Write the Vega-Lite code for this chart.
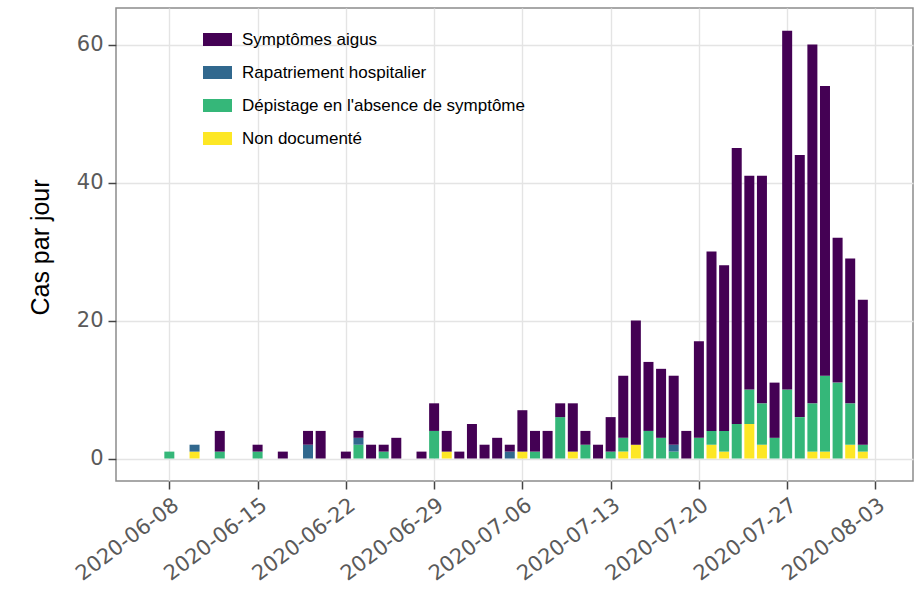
{
  "$schema": "https://vega.github.io/schema/vega-lite/v6.json",
  "width": 797,
  "height": 473,
  "autosize": "none",
  "padding": {"left": 116, "top": 8, "right": 11, "bottom": 114},
  "background": "white",
  "config": {"view": {"stroke": "#8c8c8c", "strokeWidth": 1.5}},
  "datasets": {
    "types": [
      {"type": "Non documenté", "rank": 1},
      {"type": "Dépistage en l'absence de symptôme", "rank": 2},
      {"type": "Rapatriement hospitalier", "rank": 3},
      {"type": "Symptômes aigus", "rank": 4}
    ]
  },
  "data": {"values": [
    {"date": "2020-06-08", "type": "Dépistage en l'absence de symptôme", "n": 1},
    {"date": "2020-06-10", "type": "Non documenté", "n": 1},
    {"date": "2020-06-10", "type": "Rapatriement hospitalier", "n": 1},
    {"date": "2020-06-12", "type": "Dépistage en l'absence de symptôme", "n": 1},
    {"date": "2020-06-12", "type": "Symptômes aigus", "n": 3},
    {"date": "2020-06-15", "type": "Dépistage en l'absence de symptôme", "n": 1},
    {"date": "2020-06-15", "type": "Symptômes aigus", "n": 1},
    {"date": "2020-06-17", "type": "Symptômes aigus", "n": 1},
    {"date": "2020-06-19", "type": "Rapatriement hospitalier", "n": 2},
    {"date": "2020-06-19", "type": "Symptômes aigus", "n": 2},
    {"date": "2020-06-20", "type": "Symptômes aigus", "n": 4},
    {"date": "2020-06-22", "type": "Symptômes aigus", "n": 1},
    {"date": "2020-06-23", "type": "Dépistage en l'absence de symptôme", "n": 2},
    {"date": "2020-06-23", "type": "Rapatriement hospitalier", "n": 1},
    {"date": "2020-06-23", "type": "Symptômes aigus", "n": 1},
    {"date": "2020-06-24", "type": "Symptômes aigus", "n": 2},
    {"date": "2020-06-25", "type": "Dépistage en l'absence de symptôme", "n": 1},
    {"date": "2020-06-25", "type": "Symptômes aigus", "n": 1},
    {"date": "2020-06-26", "type": "Symptômes aigus", "n": 3},
    {"date": "2020-06-28", "type": "Symptômes aigus", "n": 1},
    {"date": "2020-06-29", "type": "Dépistage en l'absence de symptôme", "n": 4},
    {"date": "2020-06-29", "type": "Symptômes aigus", "n": 4},
    {"date": "2020-06-30", "type": "Non documenté", "n": 1},
    {"date": "2020-06-30", "type": "Symptômes aigus", "n": 3},
    {"date": "2020-07-01", "type": "Symptômes aigus", "n": 1},
    {"date": "2020-07-02", "type": "Symptômes aigus", "n": 5},
    {"date": "2020-07-03", "type": "Symptômes aigus", "n": 2},
    {"date": "2020-07-04", "type": "Symptômes aigus", "n": 3},
    {"date": "2020-07-05", "type": "Rapatriement hospitalier", "n": 1},
    {"date": "2020-07-05", "type": "Symptômes aigus", "n": 1},
    {"date": "2020-07-06", "type": "Non documenté", "n": 1},
    {"date": "2020-07-06", "type": "Symptômes aigus", "n": 6},
    {"date": "2020-07-07", "type": "Dépistage en l'absence de symptôme", "n": 1},
    {"date": "2020-07-07", "type": "Symptômes aigus", "n": 3},
    {"date": "2020-07-08", "type": "Symptômes aigus", "n": 4},
    {"date": "2020-07-09", "type": "Dépistage en l'absence de symptôme", "n": 6},
    {"date": "2020-07-09", "type": "Symptômes aigus", "n": 2},
    {"date": "2020-07-10", "type": "Non documenté", "n": 1},
    {"date": "2020-07-10", "type": "Symptômes aigus", "n": 7},
    {"date": "2020-07-11", "type": "Dépistage en l'absence de symptôme", "n": 2},
    {"date": "2020-07-11", "type": "Symptômes aigus", "n": 2},
    {"date": "2020-07-12", "type": "Symptômes aigus", "n": 2},
    {"date": "2020-07-13", "type": "Dépistage en l'absence de symptôme", "n": 1},
    {"date": "2020-07-13", "type": "Symptômes aigus", "n": 5},
    {"date": "2020-07-14", "type": "Non documenté", "n": 1},
    {"date": "2020-07-14", "type": "Dépistage en l'absence de symptôme", "n": 2},
    {"date": "2020-07-14", "type": "Symptômes aigus", "n": 9},
    {"date": "2020-07-15", "type": "Non documenté", "n": 2},
    {"date": "2020-07-15", "type": "Symptômes aigus", "n": 18},
    {"date": "2020-07-16", "type": "Dépistage en l'absence de symptôme", "n": 4},
    {"date": "2020-07-16", "type": "Symptômes aigus", "n": 10},
    {"date": "2020-07-17", "type": "Dépistage en l'absence de symptôme", "n": 3},
    {"date": "2020-07-17", "type": "Symptômes aigus", "n": 10},
    {"date": "2020-07-18", "type": "Dépistage en l'absence de symptôme", "n": 1},
    {"date": "2020-07-18", "type": "Rapatriement hospitalier", "n": 1},
    {"date": "2020-07-18", "type": "Symptômes aigus", "n": 10},
    {"date": "2020-07-19", "type": "Symptômes aigus", "n": 4},
    {"date": "2020-07-20", "type": "Dépistage en l'absence de symptôme", "n": 3},
    {"date": "2020-07-20", "type": "Symptômes aigus", "n": 14},
    {"date": "2020-07-21", "type": "Non documenté", "n": 2},
    {"date": "2020-07-21", "type": "Dépistage en l'absence de symptôme", "n": 2},
    {"date": "2020-07-21", "type": "Symptômes aigus", "n": 26},
    {"date": "2020-07-22", "type": "Non documenté", "n": 1},
    {"date": "2020-07-22", "type": "Dépistage en l'absence de symptôme", "n": 3},
    {"date": "2020-07-22", "type": "Symptômes aigus", "n": 24},
    {"date": "2020-07-23", "type": "Dépistage en l'absence de symptôme", "n": 5},
    {"date": "2020-07-23", "type": "Symptômes aigus", "n": 40},
    {"date": "2020-07-24", "type": "Non documenté", "n": 5},
    {"date": "2020-07-24", "type": "Dépistage en l'absence de symptôme", "n": 5},
    {"date": "2020-07-24", "type": "Symptômes aigus", "n": 31},
    {"date": "2020-07-25", "type": "Non documenté", "n": 2},
    {"date": "2020-07-25", "type": "Dépistage en l'absence de symptôme", "n": 6},
    {"date": "2020-07-25", "type": "Symptômes aigus", "n": 33},
    {"date": "2020-07-26", "type": "Dépistage en l'absence de symptôme", "n": 3},
    {"date": "2020-07-26", "type": "Symptômes aigus", "n": 8},
    {"date": "2020-07-27", "type": "Dépistage en l'absence de symptôme", "n": 10},
    {"date": "2020-07-27", "type": "Symptômes aigus", "n": 52},
    {"date": "2020-07-28", "type": "Dépistage en l'absence de symptôme", "n": 6},
    {"date": "2020-07-28", "type": "Symptômes aigus", "n": 38},
    {"date": "2020-07-29", "type": "Non documenté", "n": 1},
    {"date": "2020-07-29", "type": "Dépistage en l'absence de symptôme", "n": 7},
    {"date": "2020-07-29", "type": "Symptômes aigus", "n": 52},
    {"date": "2020-07-30", "type": "Non documenté", "n": 1},
    {"date": "2020-07-30", "type": "Dépistage en l'absence de symptôme", "n": 11},
    {"date": "2020-07-30", "type": "Symptômes aigus", "n": 42},
    {"date": "2020-07-31", "type": "Dépistage en l'absence de symptôme", "n": 11},
    {"date": "2020-07-31", "type": "Symptômes aigus", "n": 21},
    {"date": "2020-08-01", "type": "Non documenté", "n": 2},
    {"date": "2020-08-01", "type": "Dépistage en l'absence de symptôme", "n": 6},
    {"date": "2020-08-01", "type": "Symptômes aigus", "n": 21},
    {"date": "2020-08-02", "type": "Non documenté", "n": 1},
    {"date": "2020-08-02", "type": "Dépistage en l'absence de symptôme", "n": 1},
    {"date": "2020-08-02", "type": "Symptômes aigus", "n": 21}
  ]},
  "transform": [
    {"lookup": "type", "from": {"data": {"name": "types"}, "key": "type", "fields": ["rank"]}}
  ],
  "mark": {"type": "bar", "size": 10},
  "encoding": {
    "x": {
      "field": "date",
      "type": "temporal",
      "scale": {
        "type": "utc",
        "domain": [
          {"year": 2020, "month": 6, "date": 4, "hours": 4, "utc": true},
          {"year": 2020, "month": 8, "date": 5, "hours": 14, "utc": true}
        ]
      },
      "axis": {
        "title": null,
        "values": [
          {"year": 2020, "month": 6, "date": 8, "utc": true},
          {"year": 2020, "month": 6, "date": 15, "utc": true},
          {"year": 2020, "month": 6, "date": 22, "utc": true},
          {"year": 2020, "month": 6, "date": 29, "utc": true},
          {"year": 2020, "month": 7, "date": 6, "utc": true},
          {"year": 2020, "month": 7, "date": 13, "utc": true},
          {"year": 2020, "month": 7, "date": 20, "utc": true},
          {"year": 2020, "month": 7, "date": 27, "utc": true},
          {"year": 2020, "month": 8, "date": 3, "utc": true}
        ],
        "format": "%Y-%m-%d",
        "labelAngle": -37,
        "labelAlign": "right",
        "labelBaseline": "top",
        "labelFont": "DejaVu Sans",
        "labelFontSize": 21,
        "labelColor": "#5a5a5a",
        "labelPadding": 5,
        "labelOverlap": false,
        "labelBound": false,
        "labelFlush": false,
        "tickSize": 8,
        "tickColor": "#444444",
        "tickWidth": 1.5,
        "domain": false,
        "grid": true,
        "gridColor": "#e4e4e4",
        "gridWidth": 1.4
      }
    },
    "y": {
      "field": "n",
      "type": "quantitative",
      "stack": "zero",
      "scale": {"domain": [-3.26, 65.3], "nice": false, "zero": false},
      "axis": {
        "title": "Cas par jour",
        "values": [0, 20, 40, 60],
        "titleFont": "Liberation Sans",
        "titleFontSize": 25,
        "titleFontWeight": "normal",
        "titleColor": "black",
        "titleAngle": -90,
        "titleX": -76,
        "titleY": 239,
        "titleAlign": "center",
        "titleBaseline": "middle",
        "labelFont": "DejaVu Sans",
        "labelFontSize": 21,
        "labelColor": "#5a5a5a",
        "labelPadding": 5,
        "tickSize": 8,
        "tickColor": "#444444",
        "tickWidth": 1.5,
        "domain": false,
        "grid": true,
        "gridColor": "#e4e4e4",
        "gridWidth": 1.4
      }
    },
    "color": {
      "field": "type",
      "type": "nominal",
      "scale": {
        "domain": ["Symptômes aigus", "Rapatriement hospitalier", "Dépistage en l'absence de symptôme", "Non documenté"],
        "range": ["#440154", "#31688E", "#35B779", "#FDE725"]
      },
      "legend": {
        "orient": "none",
        "legendX": 87,
        "legendY": 17,
        "title": null,
        "symbolType": "M-1,-0.45H1V0.45H-1Z",
        "symbolSize": 841,
        "symbolStrokeWidth": 0,
        "symbolOpacity": 1,
        "labelFont": "Liberation Sans",
        "labelFontSize": 17,
        "labelColor": "black",
        "labelOffset": 10,
        "labelLimit": 400,
        "rowPadding": 10
      }
    },
    "order": {"field": "rank", "type": "quantitative"}
  }
}
